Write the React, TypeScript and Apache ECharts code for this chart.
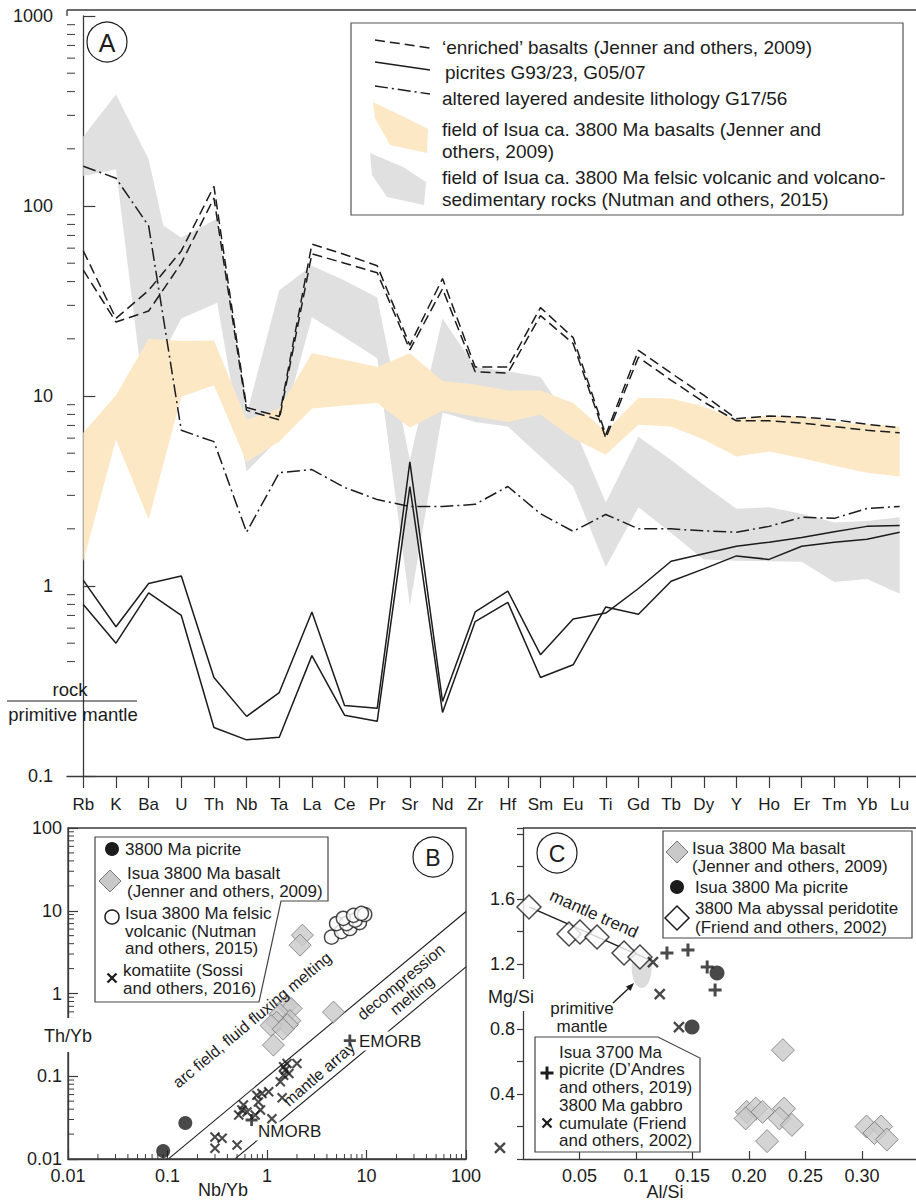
import React, { useEffect, useRef } from 'react';
import * as echarts from 'echarts';

// ---------- Panel A: primitive-mantle normalised trace elements ----------
const elements = ['Rb', 'K', 'Ba', 'U', 'Th', 'Nb', 'Ta', 'La', 'Ce', 'Pr', 'Sr', 'Nd', 'Zr', 'Hf', 'Sm', 'Eu', 'Ti', 'Gd', 'Tb', 'Dy', 'Y', 'Ho', 'Er', 'Tm', 'Yb', 'Lu'];

const enrichedBasalt1 = [58, 25.6, 36, 58, 127, 8.7, 7.8, 63, 55.6, 48.5, 18.5, 41.5, 14.2, 14.2, 29.2, 20.3, 6.25, 17.4, 13.2, 10.1, 7.6, 7.85, 7.75, 7.5, 7.1, 6.8];
const enrichedBasalt2 = [46, 24.5, 28, 50, 110, 8.4, 7.5, 56, 50, 44.5, 17.5, 36.7, 13.4, 13.2, 26.5, 18.9, 6.0, 16, 12.1, 9.3, 7.4, 7.4, 7.2, 6.9, 6.6, 6.4];
const picriteG9323 = [1.07, 0.61, 1.03, 1.13, 0.33, 0.206, 0.275, 0.73, 0.235, 0.227, 4.5, 0.247, 0.73, 0.94, 0.435, 0.67, 0.72, 0.97, 1.35, 1.48, 1.62, 1.7, 1.8, 1.93, 2.06, 2.08];
const picriteG0507 = [0.8, 0.5, 0.92, 0.7, 0.18, 0.155, 0.16, 0.43, 0.209, 0.194, 3.34, 0.216, 0.65, 0.82, 0.33, 0.385, 0.776, 0.71, 1.06, 1.23, 1.44, 1.38, 1.62, 1.7, 1.76, 1.92];
const andesiteG1756 = [162, 140, 78.6, 6.6, 5.75, 1.92, 3.95, 4.1, 3.3, 2.85, 2.62, 2.62, 2.69, 3.34, 2.4, 1.94, 2.38, 2.0, 2.0, 1.95, 1.92, 2.06, 2.3, 2.27, 2.56, 2.62];

// Isua basalt field: upper / lower envelope per element
const basaltFieldUpper = [6.4, 10.1, 20, 19.5, 19.6, 7.5, 8.6, 16.8, 15.5, 14.2, 16.8, 12, 11.5, 10.7, 10.7, 9.2, 6.5, 9.8, 9.7, 8.8, 7.5, 7.9, 7.8, 7.3, 7.1, 6.9];
const basaltFieldLower = [1.35, 5.9, 2.24, 9.9, 11.4, 4.5, 5.75, 8.6, 8.9, 9.2, 6.8, 8.4, 7.8, 7.3, 8.0, 6.0, 4.9, 7.05, 6.9, 5.9, 4.8, 5.1, 4.7, 4.3, 3.95, 3.77];

// Felsic volcanic field: [element position, value] along upper and lower envelopes
const felsicFieldUpper: [number, number][] = [[0, 232], [1, 386], [2, 176], [2.45, 79], [3, 68], [4.1, 86], [5, 8], [6, 36], [7, 48.5], [8, 40.5], [9, 33], [10, 4.6], [11, 25.6], [12, 14.2], [13, 13.5], [14, 12.6], [15, 7], [16, 2.75], [17, 6.1], [18, 4.6], [19, 3.4], [20, 2.55], [21, 2.6], [22, 2.4], [23, 2.16], [24, 2.2], [25, 2.3]];
const felsicFieldLower: [number, number][] = [[0, 144], [1, 156], [1.75, 14], [2, 12], [3, 25.6], [4.1, 31], [5, 4.0], [6, 6], [7, 26], [8, 20.4], [9, 15.8], [10, 0.79], [11, 8.2], [12, 7.3], [13, 6.9], [14, 4.8], [15, 3.34], [16, 1.26], [17, 2.6], [18, 1.9], [19, 1.38], [20, 1.36], [21, 1.35], [22, 1.34], [23, 1.05], [24, 1.09], [25, 0.91]];

// ---------- Panel B: Th/Yb vs Nb/Yb ----------
const bPicrite: [number, number][] = [[0.0905, 0.0125], [0.151, 0.0272]];
const bBasalt: [number, number][] = [[2.27, 5.07], [2.15, 3.84], [4.66, 0.596], [1.58, 0.72], [1.75, 0.66], [1.35, 0.56], [1.7, 0.47], [1.25, 0.45], [1.6, 0.42], [1.1, 0.41], [1.45, 0.37], [1.16, 0.238]];
const bFelsic: [number, number][] = [[4.45, 4.8], [5.6, 5.6], [6.8, 6.1], [5.0, 7.0], [6.3, 7.0], [8.5, 7.2], [7.7, 7.7], [5.85, 8.1], [7.4, 8.8], [9.6, 9.0], [8.9, 9.3]];
const bKomatiite: [number, number][] = [[0.3, 0.0185], [0.354, 0.0178], [0.3, 0.0135], [0.5, 0.0148], [0.76, 0.034], [0.52, 0.034], [0.56, 0.039], [0.63, 0.037], [0.58, 0.045], [0.79, 0.059], [0.82, 0.049], [0.86, 0.039], [0.89, 0.062], [1.04, 0.065], [1.12, 0.0307], [1.42, 0.055], [1.36, 0.086], [1.47, 0.103], [1.66, 0.108], [1.53, 0.119], [1.47, 0.13], [1.59, 0.143], [2.0, 0.143]];
const bNMORB: [number, number][] = [[0.7, 0.0296]];
const bEMORB: [number, number][] = [[6.8, 0.27]];
const mantleArrayUpper: [number, number][] = [[0.103, 0.0101], [100, 9.8]];
const mantleArrayLower: [number, number][] = [[0.48, 0.0101], [100, 2.1]];
const logTickLabels = ['0.01', '0.1', '1', '10', '100', '1000'];

// ---------- Panel C: Mg/Si vs Al/Si ----------
const cBasalt: [number, number][] = [[0.23, 0.67], [0.198, 0.29], [0.206, 0.31], [0.212, 0.29], [0.197, 0.25], [0.231, 0.31], [0.227, 0.25], [0.238, 0.21], [0.216, 0.11], [0.304, 0.2], [0.317, 0.2], [0.311, 0.16], [0.322, 0.12]];
const cPicrite3800: [number, number][] = [[0.1717, 1.145], [0.1496, 0.812]];
const cPeridotite: [number, number][] = [[0.0053, 1.551], [0.0407, 1.385], [0.0504, 1.397], [0.0655, 1.366], [0.0894, 1.268], [0.1035, 1.243]];
const cPicrite3700: [number, number][] = [[0.1274, 1.268], [0.146, 1.286], [0.163, 1.182], [0.17, 1.04]];
const cGabbro: [number, number][] = [[0.115, 1.212], [0.121, 1.015], [0.138, 0.812], [-0.0204, 0.068]];
const mantleTrend: [number, number][] = [[0.0053, 1.551], [0.112, 1.225]];
const primitiveMantle = { alSi: 0.105, mgSi: 1.175, halfAlSi: 0.0088, halfMgSi: 0.123 };
const cXTickLabels = ['', '0.05', '0.1', '0.15', '0.20', '0.25', '0.30'];
const cYTickLabels = ['', '', '0.4', '', '0.8', '', '1.2', '', '1.6', '', ''];
const minorMantissas = [2, 3, 4, 5, 6, 7, 8, 9];

const FONT = "'Liberation Sans', Arial, Helvetica, sans-serif";
const INK = '#1c1c1c';
const AXIS = '#3a3a3a';
const ORANGE = '#fde8c6';
const GREY = '#e0e0e0';
const DIAMOND_FILL = '#c9c9c9';
const X_PATH = 'path://M0,0L10,10M10,0L0,10';
const PLUS_PATH = 'path://M5,0L5,10M0,5L10,5';

const fmtLog = (v: number) => {
  const s = String(Number(v.toPrecision(4)));
  return logTickLabels.includes(s) ? s : '';
};

const minorValues = (decades: number[]) => {
  const out: number[] = [];
  decades.forEach((d) => minorMantissas.forEach((m) => out.push(Number((m * d).toPrecision(3)))));
  return out;
};

function tickSeries(xAxisIndex: number, yAxisIndex: number, points: number[][], dx: number, dy: number) {
  return {
    type: 'custom',
    xAxisIndex,
    yAxisIndex,
    silent: true,
    z: 3,
    data: points,
    renderItem: (_p: any, api: any) => {
      const c = api.coord([api.value(0), api.value(1)]);
      return {
        type: 'line',
        shape: { x1: c[0], y1: c[1], x2: c[0] + dx, y2: c[1] + dy },
        style: { stroke: AXIS, lineWidth: 1 },
      };
    },
  };
}

function fieldSeries(upper: [number, number][], lower: [number, number][], fill: string, z: number) {
  return {
    type: 'custom',
    xAxisIndex: 1,
    yAxisIndex: 0,
    silent: true,
    z,
    data: [[0, 1]],
    renderItem: (_p: any, api: any) => {
      const pts = upper.concat(lower.slice().reverse()).map((p) => api.coord(p));
      return { type: 'polygon', shape: { points: pts }, style: { fill, stroke: 'none' } };
    },
  };
}

const perElement = (vals: number[]) => vals.map((v, i) => [i, v] as [number, number]);

function txt(text: string, x: number, y: number, o: any = {}) {
  const style: any = {
    text,
    fill: INK,
    fontSize: o.size ?? 17,
    fontFamily: FONT,
    align: o.align ?? 'left',
    verticalAlign: 'middle',
  };
  if (o.bg) {
    style.backgroundColor = o.bg;
    style.padding = [1, 2];
  }
  return { type: 'text', x, y, rotation: o.rot ?? 0, z: o.z ?? 60, silent: true, style };
}
const line = (x1: number, y1: number, x2: number, y2: number, o: any = {}) => ({
  type: 'line',
  z: o.z ?? 60,
  silent: true,
  shape: { x1, y1, x2, y2 },
  style: { stroke: o.color ?? INK, lineWidth: o.w ?? 1.4, lineDash: o.dash ?? null },
});
const poly = (points: number[][], fill: string, stroke: string | null, z = 55, w = 1.2) => ({
  type: 'polygon',
  z,
  silent: true,
  shape: { points },
  style: { fill, stroke: stroke ?? 'none', lineWidth: w },
});
const circ = (cx: number, cy: number, r: number, fill: string, stroke: string | null, w = 1.3) => ({
  type: 'circle',
  z: 60,
  silent: true,
  shape: { cx, cy, r },
  style: { fill, stroke: stroke ?? 'none', lineWidth: w },
});
const diamond = (cx: number, cy: number, h: number) => [[cx, cy - h], [cx + h, cy], [cx, cy + h], [cx - h, cy]];
const whiteGap = (x: number, y: number, w: number, h: number) => ({ type: 'rect', z: 50, silent: true, shape: { x, y, width: w, height: h }, style: { fill: '#fff' } });
const xMark = (cx: number, cy: number) => [line(cx - 4.5, cy - 4.5, cx + 4.5, cy + 4.5, { w: 2.3 }), line(cx + 4.5, cy - 4.5, cx - 4.5, cy + 4.5, { w: 2.3 })];
const plusMark = (cx: number, cy: number) => [line(cx - 6.5, cy, cx + 6.5, cy, { w: 3 }), line(cx, cy - 6.5, cx, cy + 6.5, { w: 3 })];

function buildOption(): any {
  const axisLine = { show: true, lineStyle: { color: AXIS, width: 1.3 } };
  const label = (size: number, margin: number, extra: any = {}) => ({ fontSize: size, color: INK, fontFamily: FONT, margin, ...extra });
  const LA = { size: 19 };

  const graphic: any[] = [
    // Panel A frame pieces and caption
    line(67, 10, 916, 10, { color: AXIS, w: 1.3, z: 40 }),
    line(67, 10, 67, 16, { color: AXIS, w: 1.3, z: 40 }),
    circ(107, 42, 20, '#fff', INK, 1.2),
    txt('A', 107, 43, { size: 25, align: 'center' }),
    whiteGap(58, 673, 20, 60),
    txt('rock', 70, 689, { size: 18.5, align: 'center' }),
    line(7, 701, 137, 701, { w: 1.2 }),
    txt('primitive mantle', 73, 714, { size: 18.5, align: 'center' }),
    // Panel A legend
    { type: 'rect', z: 50, silent: true, shape: { x: 351, y: 23, width: 552, height: 192 }, style: { fill: '#fff', stroke: '#555', lineWidth: 1.2 } },
    line(375, 40, 430, 48, { w: 1.5, dash: [10, 5] }),
    line(375, 62, 430, 70, { w: 1.5 }),
    line(375, 86, 430, 94, { w: 1.5, dash: [13, 4, 2, 4] }),
    poly([[373, 102], [400, 115], [428, 129], [427, 153], [390, 145], [375, 118]], ORANGE, null, 56),
    poly([[370, 153], [403, 167], [426, 182], [424, 205], [387, 197], [372, 175]], GREY, null, 56),
    txt('‘enriched’ basalts (Jenner and others, 2009)', 442, 47, LA),
    txt('picrites G93/23, G05/07', 445, 72, LA),
    txt('altered layered andesite lithology G17/56', 442, 98, LA),
    txt('field of Isua ca. 3800 Ma basalts (Jenner and', 442, 129, LA),
    txt('others, 2009)', 442, 151, LA),
    txt('field of Isua ca. 3800 Ma felsic volcanic and volcano-', 442, 177, LA),
    txt('sedimentary rocks (Nutman and others, 2015)', 442, 199, LA),

    // Panel B captions and legend
    circ(433, 857, 20, '#fff', INK, 1.2),
    txt('B', 433, 858, { size: 23, align: 'center' }),
    whiteGap(60, 1018, 18, 34),
    txt('Th/Yb', 68, 1036, { size: 18, align: 'center' }),
    txt('Nb/Yb', 223, 1190, { size: 18, align: 'center' }),
    poly([[95, 837], [328, 837], [328, 901], [281, 901], [259, 1002], [95, 1002]], '#fff', '#444', 50, 1.2),
    circ(112, 849, 7, INK, null),
    poly(diamond(110, 881, 11), DIAMOND_FILL, '#777', 60, 1),
    circ(112, 917, 7, '#fff', INK, 1.5),
    ...xMark(112, 978),
    txt('3800 Ma picrite', 125, 849),
    txt('Isua 3800 Ma basalt', 127, 873),
    txt('(Jenner and others, 2009)', 127, 891),
    txt('Isua 3800 Ma felsic', 125, 913),
    txt('volcanic (Nutman', 125, 931),
    txt('and others, 2015)', 125, 948),
    txt('komatiite (Sossi', 123, 970),
    txt('and others, 2016)', 123, 988),
    txt('arc field, fluid fluxing melting', 252, 1020, { size: 16, align: 'center', rot: (40 * Math.PI) / 180 }),
    txt('decompression', 401, 982, { size: 16, align: 'center', rot: (40 * Math.PI) / 180 }),
    txt('melting', 412, 995, { size: 16, align: 'center', rot: (40 * Math.PI) / 180 }),
    txt('mantle array', 319, 1074, { size: 16, align: 'center', rot: (41 * Math.PI) / 180 }),
    txt('NMORB', 256, 1131, { z: 2.5, bg: '#fff' }),
    txt('EMORB', 357, 1041, { z: 2.5, bg: '#fff' }),

    // Panel C captions and legends
    line(523, 828, 916, 828, { color: AXIS, w: 1.3, z: 40 }),
    circ(557, 853, 20, '#fff', INK, 1.2),
    txt('C', 557, 854, { size: 23, align: 'center' }),
    whiteGap(514, 979, 18, 32),
    txt('Mg/Si', 511, 997, { size: 18, align: 'center' }),
    txt('Al/Si', 665, 1192, { size: 18, align: 'center' }),
    { type: 'rect', z: 50, silent: true, shape: { x: 663, y: 831, width: 249, height: 107 }, style: { fill: '#fff', stroke: '#444', lineWidth: 1.2 } },
    poly(diamond(677, 852, 11), DIAMOND_FILL, '#777', 60, 1),
    circ(677, 887, 7, INK, null),
    poly(diamond(677, 918, 12), '#fff', INK, 60, 1.5),
    txt('Isua 3800 Ma basalt', 692, 848),
    txt('(Jenner and others, 2009)', 692, 866),
    txt('Isua 3800 Ma picrite', 695, 887),
    txt('3800 Ma abyssal peridotite', 695, 908),
    txt('(Friend and others, 2002)', 695, 927),
    poly([[535, 1037], [658, 1037], [700, 1058], [700, 1152], [535, 1152]], '#fff', '#444', 50, 1.2),
    ...plusMark(547, 1073),
    ...xMark(547, 1123),
    txt('Isua 3700 Ma', 559, 1052),
    txt('picrite (D’Andres', 559, 1069),
    txt('and others, 2019)', 559, 1087),
    txt('3800 Ma gabbro', 559, 1105),
    txt('cumulate (Friend', 559, 1123),
    txt('and others, 2002)', 559, 1140),
    txt('mantle trend', 594, 914, { size: 17, align: 'center', rot: (-24 * Math.PI) / 180 }),
    txt('primitive', 582, 1008, { align: 'center' }),
    txt('mantle', 582, 1026, { align: 'center' }),
    // arrow pointing at the primitive mantle composition
    line(613, 1003, 629, 988, { w: 1.4 }),
    poly([[634, 983], [630.5, 991], [626, 986.5]], INK, null, 60),
  ];

  const series: any[] = [
    // Panel A
    fieldSeries(felsicFieldUpper, felsicFieldLower, GREY, 1),
    fieldSeries(perElement(basaltFieldUpper), perElement(basaltFieldLower), ORANGE, 2),
    tickSeries(1, 0, minorValues([0.1, 1, 10, 100]).map((v) => [-0.5, v]), 8, 0),
    ...[enrichedBasalt1, enrichedBasalt2].map((d) => ({
      type: 'line', xAxisIndex: 1, yAxisIndex: 0, data: perElement(d), symbol: 'none', silent: true, z: 4,
      lineStyle: { color: INK, width: 1.5, type: [10, 5] },
    })),
    ...[picriteG9323, picriteG0507].map((d) => ({
      type: 'line', xAxisIndex: 1, yAxisIndex: 0, data: perElement(d), symbol: 'none', silent: true, z: 4,
      lineStyle: { color: INK, width: 1.5 },
    })),
    {
      type: 'line', xAxisIndex: 1, yAxisIndex: 0, data: perElement(andesiteG1756), symbol: 'none', silent: true, z: 4,
      lineStyle: { color: INK, width: 1.5, type: [13, 4, 2, 4] },
    },

    // Panel B
    tickSeries(2, 1, minorValues([0.01, 0.1, 1, 10]).map((v) => [v, 0.01]), 0, -5),
    tickSeries(2, 1, minorValues([0.01, 0.1, 1, 10]).map((v) => [0.01, v]), 6, 0),
    ...[mantleArrayUpper, mantleArrayLower].map((d) => ({
      type: 'line', xAxisIndex: 2, yAxisIndex: 1, data: d, symbol: 'none', silent: true, z: 2,
      lineStyle: { color: INK, width: 1.1 },
    })),
    { type: 'scatter', xAxisIndex: 2, yAxisIndex: 1, data: bKomatiite, symbol: X_PATH, symbolSize: 9, silent: true, z: 3, itemStyle: { color: 'transparent', borderColor: INK, borderWidth: 2.1 } },
    { type: 'scatter', xAxisIndex: 2, yAxisIndex: 1, data: bNMORB.concat(bEMORB), symbol: PLUS_PATH, symbolSize: 12, silent: true, z: 3, itemStyle: { color: 'transparent', borderColor: INK, borderWidth: 2.8 } },
    { type: 'scatter', xAxisIndex: 2, yAxisIndex: 1, data: bBasalt, symbol: 'diamond', symbolSize: 22, silent: true, z: 3, itemStyle: { color: DIAMOND_FILL, borderColor: '#777', borderWidth: 1 } },
    { type: 'scatter', xAxisIndex: 2, yAxisIndex: 1, data: bFelsic, symbol: 'circle', symbolSize: 14, silent: true, z: 3, itemStyle: { color: '#fff', borderColor: INK, borderWidth: 1.5 } },
    { type: 'scatter', xAxisIndex: 2, yAxisIndex: 1, data: bPicrite, symbol: 'circle', symbolSize: 14, silent: true, z: 3, itemStyle: { color: INK } },

    // Panel C
    {
      type: 'custom', xAxisIndex: 3, yAxisIndex: 2, silent: true, z: 2,
      data: [[primitiveMantle.alSi, primitiveMantle.mgSi]],
      renderItem: (_p: any, api: any) => {
        const c = api.coord([api.value(0), api.value(1)]);
        const s = api.size([primitiveMantle.halfAlSi, primitiveMantle.halfMgSi]);
        return { type: 'ellipse', shape: { cx: c[0], cy: c[1], rx: s[0], ry: s[1] }, style: { fill: '#dcdcdc', stroke: 'none' } };
      },
    },
    { type: 'line', xAxisIndex: 3, yAxisIndex: 2, data: mantleTrend, symbol: 'none', silent: true, z: 2, lineStyle: { color: INK, width: 1.4 } },
    { type: 'scatter', xAxisIndex: 3, yAxisIndex: 2, data: cPeridotite, symbol: 'diamond', symbolSize: 24, silent: true, z: 3, itemStyle: { color: '#fff', borderColor: INK, borderWidth: 1.5 } },
    { type: 'scatter', xAxisIndex: 3, yAxisIndex: 2, data: cBasalt, symbol: 'diamond', symbolSize: 23, silent: true, z: 3, itemStyle: { color: DIAMOND_FILL, borderColor: '#777', borderWidth: 1 } },
    { type: 'scatter', xAxisIndex: 3, yAxisIndex: 2, data: cPicrite3700, symbol: PLUS_PATH, symbolSize: 13, silent: true, z: 4, itemStyle: { color: 'transparent', borderColor: INK, borderWidth: 3 } },
    { type: 'scatter', xAxisIndex: 3, yAxisIndex: 2, data: cGabbro, symbol: X_PATH, symbolSize: 10, silent: true, clip: false, z: 4, itemStyle: { color: 'transparent', borderColor: INK, borderWidth: 2.4 } },
    { type: 'scatter', xAxisIndex: 3, yAxisIndex: 2, data: cPicrite3800, symbol: 'circle', symbolSize: 15, silent: true, z: 4, itemStyle: { color: INK } },
  ];

  return {
    animation: false,
    backgroundColor: '#fff',
    textStyle: { fontFamily: FONT },
    grid: [
      { left: 67, top: 16, width: 852, height: 760 },
      { left: 68, top: 828, width: 398, height: 331, show: true, borderColor: AXIS, borderWidth: 1.3, backgroundColor: 'transparent' },
      { left: 523, top: 828, width: 393, height: 331 },
    ],
    xAxis: [
      {
        gridIndex: 0, type: 'category', data: elements, boundaryGap: true, axisLine,
        axisTick: { show: true, alignWithLabel: true, interval: 0, length: 12, lineStyle: { color: AXIS, width: 1.2 } },
        axisLabel: label(17, 20, { interval: 0 }),
        splitLine: { show: false },
      },
      { gridIndex: 0, type: 'value', min: -0.5, max: 25.5, show: false },
      {
        gridIndex: 1, type: 'log', logBase: 10, min: 0.01, max: 100, axisLine,
        axisTick: { show: true, inside: true, length: 9, lineStyle: { color: AXIS, width: 1.2 } },
        axisLabel: label(18, 8, { formatter: fmtLog }),
        splitLine: { show: false },
      },
      {
        gridIndex: 2, type: 'value', min: 0, max: 0.3478, interval: 0.05, axisLine,
        axisTick: { show: true, inside: true, length: 8, lineStyle: { color: AXIS, width: 1.2 } },
        axisLabel: label(18, 8, { formatter: (v: number) => cXTickLabels[Math.round(v / 0.05)] ?? '', showMinLabel: false, showMaxLabel: false }),
        splitLine: { show: false },
      },
    ],
    yAxis: [
      {
        gridIndex: 0, type: 'log', logBase: 10, min: 0.1, max: 1000, axisLine,
        axisTick: { show: true, inside: true, length: 12, lineStyle: { color: AXIS, width: 1.2 } },
        axisLabel: label(18, 14, { formatter: fmtLog }),
        splitLine: { show: false },
      },
      {
        gridIndex: 1, type: 'log', logBase: 10, min: 0.01, max: 100, axisLine,
        axisTick: { show: true, inside: true, length: 10, lineStyle: { color: AXIS, width: 1.2 } },
        axisLabel: label(18, 6, { formatter: fmtLog }),
        splitLine: { show: false },
      },
      {
        gridIndex: 2, type: 'value', min: 0, max: 2.037, interval: 0.2, axisLine,
        axisTick: { show: true, inside: false, length: 6, lineStyle: { color: AXIS, width: 1.2 } },
        axisLabel: label(18, 8, { formatter: (v: number) => cYTickLabels[Math.round(v / 0.2)] ?? '' }),
        splitLine: { show: false },
      },
    ],
    series,
    graphic: { elements: graphic },
  };
}

export default function App() {
  const ref = useRef<HTMLDivElement>(null);
  useEffect(() => {
    if (!ref.current) return;
    const chart = echarts.init(ref.current, null, { renderer: 'svg' });
    chart.setOption(buildOption());
    return () => chart.dispose();
  }, []);
  return (
    <div
      ref={ref}
      style={{ position: 'absolute', left: 0, top: 0, width: 916, height: 1201, background: '#fff' }}
    />
  );
}
